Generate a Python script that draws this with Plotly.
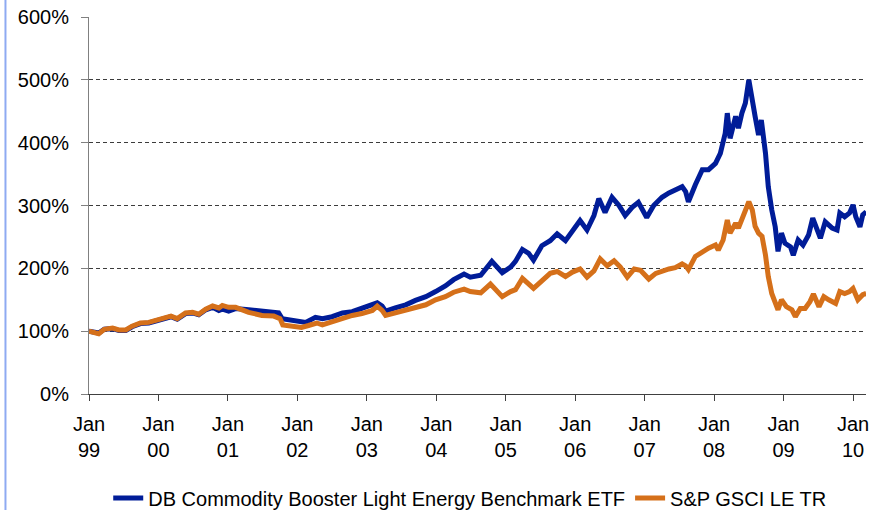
import plotly.graph_objects as go

# Time in decimal years, index level in percent of the Jan-1999 starting value
etf_t = [
    1999.00, 1999.14, 1999.22, 1999.34, 1999.43, 1999.53, 1999.62, 1999.74, 1999.86, 1999.96,
    2000.08, 2000.18, 2000.27, 2000.39, 2000.49, 2000.58, 2000.68, 2000.78, 2000.87, 2000.92,
    2001.01, 2001.11, 2001.30, 2001.49, 2001.64, 2001.73, 2001.78, 2001.88, 2002.02, 2002.12,
    2002.26, 2002.36, 2002.50, 2002.65, 2002.79, 2002.93, 2003.08, 2003.15, 2003.22, 2003.27,
    2003.41, 2003.56, 2003.70, 2003.85, 2003.99, 2004.13, 2004.25, 2004.40, 2004.49, 2004.64,
    2004.80, 2004.95, 2005.07, 2005.14, 2005.24, 2005.33, 2005.40, 2005.52, 2005.64, 2005.74,
    2005.86, 2005.96, 2006.07, 2006.17, 2006.27, 2006.34, 2006.43, 2006.53, 2006.63, 2006.72,
    2006.82, 2006.91, 2007.03, 2007.13, 2007.25, 2007.35, 2007.44, 2007.54, 2007.59, 2007.63,
    2007.73, 2007.83, 2007.92, 2008.02, 2008.09, 2008.16, 2008.19, 2008.23, 2008.31, 2008.35,
    2008.40, 2008.45, 2008.50, 2008.55, 2008.59, 2008.64, 2008.68, 2008.74, 2008.78, 2008.83,
    2008.88, 2008.92, 2008.97, 2009.02, 2009.10, 2009.14, 2009.21, 2009.28, 2009.36, 2009.42,
    2009.48, 2009.53, 2009.60, 2009.70, 2009.77, 2009.81, 2009.88, 2009.95, 2010.00, 2010.04,
    2010.10, 2010.14, 2010.19,
]
etf_pct = [
    100, 97, 103, 104, 101, 101, 107, 112, 113, 116,
    121, 123, 119, 128, 129, 126, 134, 138, 133, 135,
    132, 136, 134, 131, 130, 129, 120, 118, 115, 114,
    122, 120, 123, 129, 131, 136, 141, 145, 140, 132,
    137, 142, 149, 155, 163, 172, 182, 191, 186, 189,
    211, 193, 202, 211, 230, 224, 213, 236, 244, 255,
    244, 260, 276, 261, 284, 311, 289, 313, 300, 284,
    297, 305, 281, 300, 313, 320, 325, 330, 322, 306,
    333, 357, 357, 367, 383, 415, 447, 407, 442, 423,
    447, 463, 500, 473, 442, 412, 436, 383, 330, 293,
    266, 227, 256, 240, 234, 221, 245, 237, 253, 280,
    261, 248, 274, 264, 261, 288, 282, 288, 301, 282,
    266, 285, 290,
]

gsci_t = [
    1999.00, 1999.14, 1999.22, 1999.34, 1999.43, 1999.53, 1999.62, 1999.74, 1999.86, 1999.96,
    2000.08, 2000.18, 2000.27, 2000.39, 2000.49, 2000.58, 2000.68, 2000.78, 2000.87, 2000.92,
    2001.01, 2001.11, 2001.30, 2001.49, 2001.66, 2001.75, 2001.79, 2001.91, 2002.06, 2002.16,
    2002.28, 2002.36, 2002.50, 2002.65, 2002.79, 2002.93, 2003.08, 2003.15, 2003.22, 2003.27,
    2003.41, 2003.56, 2003.70, 2003.85, 2003.99, 2004.13, 2004.25, 2004.40, 2004.49, 2004.64,
    2004.78, 2004.95, 2005.07, 2005.14, 2005.24, 2005.33, 2005.40, 2005.52, 2005.64, 2005.74,
    2005.86, 2005.96, 2006.07, 2006.17, 2006.27, 2006.36, 2006.46, 2006.56, 2006.65, 2006.75,
    2006.85, 2006.94, 2007.06, 2007.16, 2007.25, 2007.35, 2007.44, 2007.54, 2007.59, 2007.63,
    2007.73, 2007.83, 2007.92, 2008.02, 2008.06, 2008.13, 2008.19, 2008.23, 2008.31, 2008.35,
    2008.40, 2008.45, 2008.50, 2008.55, 2008.59, 2008.64, 2008.69, 2008.74, 2008.78, 2008.83,
    2008.88, 2008.92, 2008.97, 2009.04, 2009.12, 2009.17, 2009.24, 2009.31, 2009.38, 2009.43,
    2009.51, 2009.58, 2009.65, 2009.75, 2009.81, 2009.88, 2009.95, 2010.00, 2010.07, 2010.14,
    2010.19,
]
gsci_pct = [
    100, 96, 103, 105, 102, 102, 108, 113, 114, 117,
    122, 124, 120, 129, 130, 127, 135, 140, 137, 141,
    138, 138, 130, 125, 124, 120, 110, 108, 106, 109,
    113, 110, 115, 120, 125, 128, 133, 140, 133, 125,
    129, 132, 137, 142, 150, 155, 162, 167, 163, 161,
    175, 155, 163, 166, 184, 176, 168, 180, 192, 195,
    187, 194, 199, 186, 196, 215, 204, 212, 202, 186,
    199, 197, 183, 192, 196, 199, 201, 207, 204, 198,
    219, 227, 232, 237, 229, 245, 277, 256, 272, 264,
    277, 290, 306, 293, 267, 256, 251, 221, 187, 160,
    144, 134, 150, 139, 134, 123, 136, 136, 147, 159,
    139, 155, 150, 144, 163, 160, 163, 168, 150, 158,
    160,
]

tick_years = [1999, 2000, 2001, 2002, 2003, 2004, 2005, 2006, 2007, 2008, 2009, 2010]
tick_text = ["Jan<br>99", "Jan<br>00", "Jan<br>01", "Jan<br>02", "Jan<br>03", "Jan<br>04",
             "Jan<br>05", "Jan<br>06", "Jan<br>07", "Jan<br>08", "Jan<br>09", "Jan<br>10"]

FONT = "Liberation Sans, Arial, Helvetica, sans-serif"

fig = go.Figure()
fig.add_trace(go.Scatter(
    x=etf_t, y=etf_pct, mode="lines",
    name="DB Commodity Booster Light Energy Benchmark ETF",
    line=dict(color="#001c98", width=5),
))
fig.add_trace(go.Scatter(
    x=gsci_t, y=gsci_pct, mode="lines",
    name="S&P GSCI LE TR",
    line=dict(color="#d5701a", width=5),
))

fig.update_layout(
    width=872, height=510,
    margin=dict(l=89, r=6, t=17, b=116, autoexpand=False),
    paper_bgcolor="white", plot_bgcolor="white",
    font=dict(family=FONT, size=20, color="black"),
    showlegend=True,
    legend=dict(orientation="h", xref="paper", x=0.49, xanchor="center",
                yref="container", y=0.0235, yanchor="middle",
                font=dict(size=20), bgcolor="rgba(0,0,0,0)", itemwidth=30),
    hovermode=False,
    shapes=[dict(type="line", xref="paper", yref="paper",
                 x0=-0.1075, x1=-0.1075, y0=-0.36, y1=1.06,
                 line=dict(color="#8eaaf2", width=2))],
)

fig.update_xaxes(
    range=[1999.0, 2010.187],
    tickmode="array", tickvals=tick_years, ticktext=tick_text,
    ticks="outside", ticklen=6, tickcolor="#404040",
    showline=True, linecolor="#404040", linewidth=1,
    showgrid=False, zeroline=False, ticklabelstandoff=6,
)
fig.update_yaxes(
    range=[0, 600], dtick=100, ticksuffix="%",
    ticks="outside", ticklen=7, tickcolor="#808080",
    showline=True, linecolor="#808080", linewidth=1,
    showgrid=True, gridcolor="#3c3c3c", gridwidth=1, griddash="4px,3px",
    zeroline=False, ticklabelstandoff=8,
)

fig.write_html("out.html")
